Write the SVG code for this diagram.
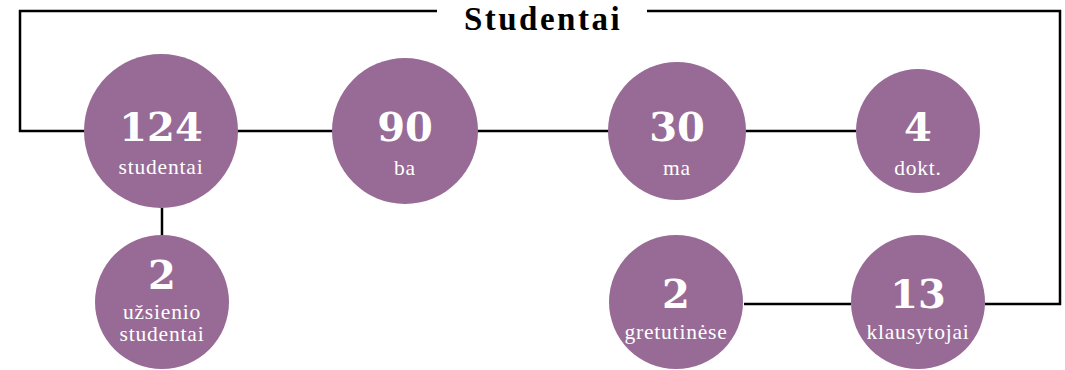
<svg xmlns="http://www.w3.org/2000/svg" width="1065" height="370" viewBox="0 0 1065 370">
<style>
.c{fill:#976b96}
.n{font-family:"DejaVu Serif",serif;font-weight:bold;font-size:40px;fill:#fff;text-anchor:middle}
.l{font-family:"Liberation Serif",serif;font-size:21.5px;letter-spacing:0.8px;fill:#fff;text-anchor:middle}
.ln{fill:none;stroke:#000;stroke-width:2.5}
.t{font-family:"Liberation Serif",serif;font-weight:bold;font-size:33px;letter-spacing:2.5px;fill:#000;text-anchor:middle}
</style>
<rect width="1065" height="370" fill="#fff"/>
<g id="connectors">
<polyline class="ln" points="437,11 20,11 20,131 856,131"/>
<polyline class="ln" points="647,11 1060,11 1060,304 985,304"/>
<line class="ln" x1="744" y1="304" x2="851" y2="304"/>
<line class="ln" x1="162" y1="208" x2="162" y2="236"/>
</g>
<text class="t" x="543" y="29.5">Studentai</text>
<g id="n124"><circle class="c" cx="161" cy="131" r="77"/><text class="n" x="161" y="141">124</text><text class="l" x="161" y="174">studentai</text></g>
<g id="n90"><circle class="c" cx="405" cy="131" r="73"/><text class="n" x="405" y="141">90</text><text class="l" x="405" y="175">ba</text></g>
<g id="n30"><circle class="c" cx="677" cy="131" r="69"/><text class="n" x="677" y="141">30</text><text class="l" x="677" y="175">ma</text></g>
<g id="n4"><circle class="c" cx="918" cy="131" r="62"/><text class="n" x="918" y="141">4</text><text class="l" x="918" y="175">dokt.</text></g>
<g id="n2u"><circle class="c" cx="162" cy="302" r="67"/><text class="n" x="162" y="289">2</text><text class="l" x="162" y="319">užsienio</text><text class="l" x="162" y="341">studentai</text></g>
<g id="n2g"><circle class="c" cx="676" cy="302" r="67"/><text class="n" x="676" y="308">2</text><text class="l" x="676" y="339">gretutinėse</text></g>
<g id="n13"><circle class="c" cx="918" cy="302" r="67"/><text class="n" x="918" y="308">13</text><text class="l" x="918" y="339">klausytojai</text></g>
</svg>
